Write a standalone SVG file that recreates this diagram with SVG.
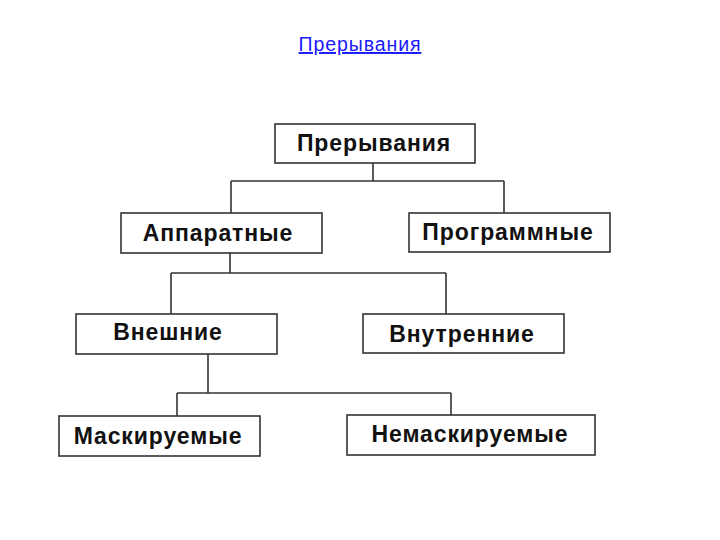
<svg xmlns="http://www.w3.org/2000/svg" width="720" height="540" viewBox="0 0 720 540">
<style>
.box{fill:#fff;stroke:#333;stroke-width:1.6}
.lbl{font-family:"Liberation Sans",Arial,sans-serif;font-weight:bold;font-size:23px;letter-spacing:0.9px;fill:#111;text-anchor:middle}
.conn{fill:none;stroke:#333;stroke-width:1.6}
.title{font-family:"Liberation Sans",Arial,sans-serif;font-size:19.5px;letter-spacing:0.9px;fill:#1a1aff;text-anchor:middle;text-decoration:underline}
</style>
<rect width="720" height="540" fill="#fff"/>
<text class="title" x="360" y="51">Прерывания</text>
<g id="connectors">
<path class="conn" d="M373,163 V181 M231,181 H504 M231,181 V213 M504,181 V213"/>
<path class="conn" d="M230,253 V273 M171,273 H446 M171,273 V314 M446,273 V314"/>
<path class="conn" d="M208,354 V393 M177,393 H451 M177,393 V416 M451,393 V415"/>
</g>
<g id="n-root"><rect class="box" x="275" y="124" width="200" height="39"/><text class="lbl" x="374" y="151">Прерывания</text></g>
<g id="n-hw"><rect class="box" x="121" y="213" width="201" height="40"/><text class="lbl" x="218" y="241">Аппаратные</text></g>
<g id="n-sw"><rect class="box" x="409" y="213" width="201" height="39"/><text class="lbl" x="508" y="240">Программные</text></g>
<g id="n-ext"><rect class="box" x="76" y="314" width="201" height="40"/><text class="lbl" x="168" y="340">Внешние</text></g>
<g id="n-int"><rect class="box" x="363" y="314" width="201" height="39"/><text class="lbl" x="462" y="342">Внутренние</text></g>
<g id="n-mask"><rect class="box" x="59" y="416" width="201" height="40"/><text class="lbl" x="158" y="444">Маскируемые</text></g>
<g id="n-nmask"><rect class="box" x="347" y="415" width="248" height="40"/><text class="lbl" x="470" y="442">Немаскируемые</text></g>
</svg>
